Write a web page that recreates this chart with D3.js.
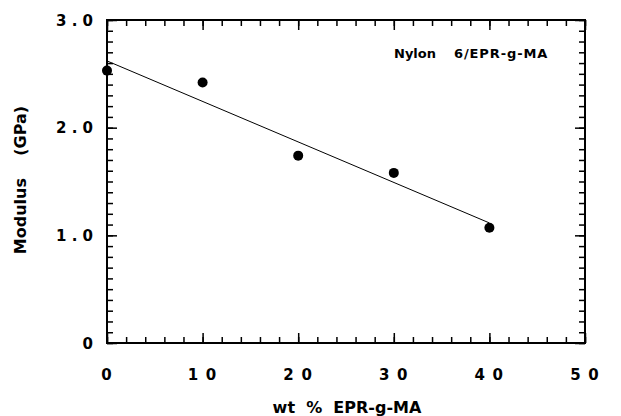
<!DOCTYPE html>
<html><head><meta charset="utf-8">
<script src="https://cdn.jsdelivr.net/npm/d3@7"></script>
<style>body{margin:0;background:#fff}svg{display:block}text{font-family:"DejaVu Sans",sans-serif;font-weight:bold;fill:#000;white-space:pre}</style>
</head><body><svg id="c" width="621" height="416"></svg>
<script>
const wtPct = [0, 10, 20, 30, 40];
const modulus = [2.53, 2.42, 1.74, 1.58, 1.07];
const fitX = [0, 40];
const fitY = [2.62, 1.115];
const xTickLabels = ["0", "1 0", "2 0", "3 0", "4 0", "5 0"];
const xTickValues = [0, 10, 20, 30, 40, 50];
const yTickLabels = ["0", "1 . 0", "2 . 0", "3 . 0"];
const yTickValues = [0, 1, 2, 3];

const svg = d3.select("#c");
const L = 107, R = 585, T = 20, B = 343;
const x = d3.scaleLinear().domain([0, 50]).range([L, R]);
const y = d3.scaleLinear().domain([0, 3]).range([B, T]);

const minorX = d3.range(0, 50.001, 2);
const minorY = d3.range(0, 3.0001, 0.1).map(v => +v.toFixed(2));

function axisTicks(axis, scale, vals, size){
  return axis(scale).tickValues(vals).tickSize(size).tickFormat("");
}
const g = svg.append("g");
g.append("g").attr("transform",`translate(0,${B})`).call(axisTicks(d3.axisTop, x, minorX, 6));
g.append("g").attr("transform",`translate(0,${B})`).call(axisTicks(d3.axisTop, x, xTickValues, 10));
g.append("g").attr("transform",`translate(0,${T})`).call(axisTicks(d3.axisBottom, x, minorX, 6));
g.append("g").attr("transform",`translate(0,${T})`).call(axisTicks(d3.axisBottom, x, xTickValues, 10));
g.append("g").attr("transform",`translate(${L},0)`).call(axisTicks(d3.axisRight, y, minorY, 6));
g.append("g").attr("transform",`translate(${L},0)`).call(axisTicks(d3.axisRight, y, yTickValues, 10));
g.append("g").attr("transform",`translate(${R},0)`).call(axisTicks(d3.axisLeft, y, minorY, 6));
g.append("g").attr("transform",`translate(${R},0)`).call(axisTicks(d3.axisLeft, y, yTickValues, 10));
g.selectAll(".domain").remove();
g.selectAll(".tick line").attr("stroke","#000").attr("stroke-width",1.5);

svg.append("rect").attr("x",L).attr("y",T).attr("width",R-L).attr("height",B-T)
  .attr("fill","none").attr("stroke","#000").attr("stroke-width",2);

// tick labels
svg.selectAll(".xl").data(xTickValues).enter().append("text")
  .attr("x",d=>x(d)).attr("y",380).attr("text-anchor","middle")
  .attr("font-size",15).attr("letter-spacing",1.2).text((d,i)=>xTickLabels[i]);
svg.selectAll(".yl").data(yTickValues).enter().append("text")
  .attr("x",93).attr("y",d=>y(d)+5.5).attr("text-anchor","end")
  .attr("font-size",15).text((d,i)=>yTickLabels[i]);

// fit line
svg.append("line").attr("x1",x(fitX[0])).attr("y1",y(fitY[0]))
  .attr("x2",x(fitX[1])).attr("y2",y(fitY[1])).attr("stroke","#000").attr("stroke-width",1);

// points
svg.selectAll("circle").data(wtPct).enter().append("circle")
  .attr("cx",d=>x(d)).attr("cy",(d,i)=>y(modulus[i])).attr("r",5).attr("fill","#000");

// labels
svg.append("text").attr("x",394).attr("y",58).attr("font-size",13).text("Nylon");
svg.append("text").attr("x",454).attr("y",58).attr("font-size",13).attr("letter-spacing",0.9).text("6/EPR-g-MA");
svg.append("text").attr("x",347).attr("y",413).attr("text-anchor","middle").attr("font-size",16)
  .text("wt  %  EPR-g-MA");
svg.append("text").attr("transform","translate(26,180) rotate(-90)").attr("text-anchor","middle")
  .attr("font-size",16).text("Modulus    (GPa)");
</script></body></html>
